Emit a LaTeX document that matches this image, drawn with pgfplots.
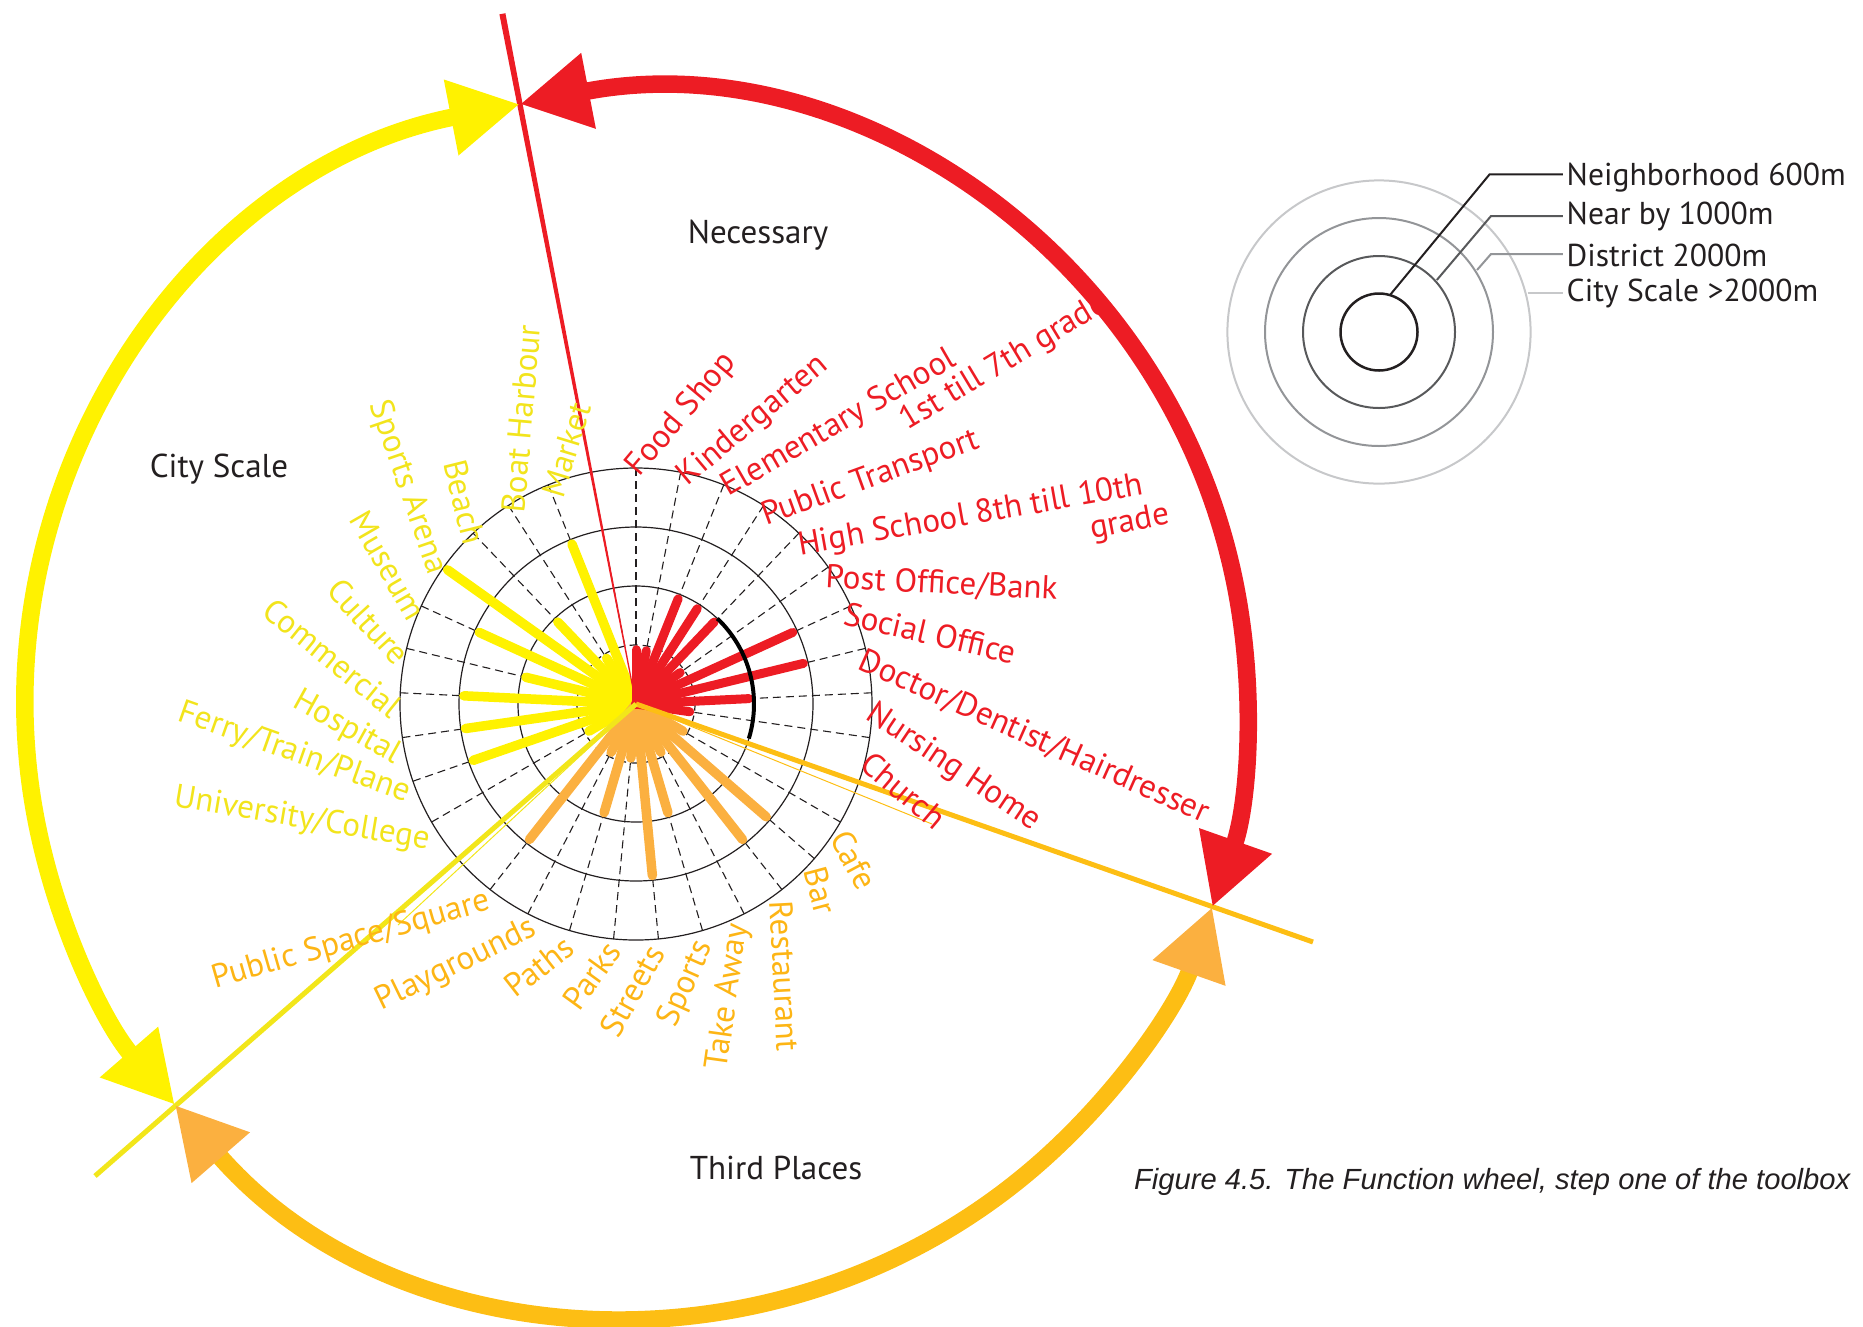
\documentclass[border=0pt]{standalone}
\usepackage{pgfplots}
\pgfplotsset{compat=1.18}
\usepackage{pgfplotstable}
\usepackage{fontspec}
\setmainfont{PT Sans}
\newfontfamily\capfont{Liberation Sans}
\usetikzlibrary{arrows.meta}
\definecolor{cRed}{HTML}{ED1C24}
\definecolor{cYel}{HTML}{FFF200}
\definecolor{cYelT}{HTML}{F2E41C}
\definecolor{cYelL}{HTML}{F2E61A}
\definecolor{cOrBar}{HTML}{FBB040}
\definecolor{cGold}{HTML}{FDBE14}
\definecolor{cOrT}{HTML}{FDB515}
\definecolor{cInk}{HTML}{231F20}
\definecolor{gA}{HTML}{58595B}
\definecolor{gB}{HTML}{939598}
\definecolor{gC}{HTML}{C7C8CA}

% angle (deg) and ring reached (1 = 600m ... 4 = >2000m)
\pgfplotstableread{
a r
90 1
79.09 1
68.18 2
57.27 2
46.36 2
35.45 1
24.55 3
13.64 3
2.73 2
-8.18 1
}\necessary
\pgfplotstableread{
a r
-30 1
-40.91 3
-51.82 3
-62.73 1
-73.64 2
-84.55 3
-95.45 1
-106.36 2
-117.27 1
-128.18 3
}\thirdplaces
\pgfplotstableread{
a r
-150 1
-160.91 3
-171.82 3
-182.73 3
-193.64 2
-204.55 3
-215.45 4
-226.36 2
-237.27 1
-248.18 3
}\cityscale

\tikzset{lbl/.style={inner sep=0pt, font=\fontsize{9.4}{11}\selectfont},
  hd/.style={inner sep=0pt, text=cInk, font=\fontsize{9.4}{11}\selectfont},
  lg/.style={inner sep=0pt, text=cInk, anchor=west, font=\fontsize{9}{11}\selectfont}}

\begin{document}
\begin{tikzpicture}
\begin{axis}[name=ax, x=0.1mm, y=0.1mm, xmin=0, xmax=1863, ymin=0, ymax=1326,
  y dir=reverse, hide axis, clip=false, scale only axis]

% rings and spokes
\draw[cInk, line width=0.12mm, dash pattern=on 0.8mm off 0.5mm] (axis cs:636,704) circle[radius=5.9mm];
\draw[cInk, line width=0.12mm] (axis cs:636,704) circle[radius=11.8mm];
\draw[cInk, line width=0.12mm] (axis cs:636,704) circle[radius=17.7mm];
\draw[cInk, line width=0.12mm] (axis cs:636,704) circle[radius=23.6mm];
\pgfplotsinvokeforeach{0,...,32}{
  \draw[cInk, line width=0.11mm, dash pattern=on 0.8mm off 0.5mm]
    ([shift={(90-10.90909*#1:5.9mm)}]axis cs:636,704) -- ([shift={(90-10.90909*#1:24.0mm)}]axis cs:636,704);
}

% bars
\addplot[cYel, line width=0.95mm, line cap=round,
  quiver={u={59*(\thisrow{r}-0.08)*cos(\thisrow{a})}, v={-59*(\thisrow{r}-0.08)*sin(\thisrow{a})},
    every arrow/.append style={line width=0.95mm, line cap=round, draw=cYel}}]
  table[x expr=636, y expr=704] {\cityscale};
\addplot[cOrBar, line width=0.95mm, line cap=round,
  quiver={u={59*(\thisrow{r}-0.08)*cos(\thisrow{a})}, v={-59*(\thisrow{r}-0.08)*sin(\thisrow{a})},
    every arrow/.append style={line width=0.95mm, line cap=round, draw=cOrBar}}]
  table[x expr=636, y expr=704] {\thirdplaces};
\addplot[cRed, line width=0.9mm, line cap=round,
  quiver={u={59*(\thisrow{r}-0.08)*cos(\thisrow{a})}, v={-59*(\thisrow{r}-0.08)*sin(\thisrow{a})},
    every arrow/.append style={line width=0.9mm, line cap=round, draw=cRed}}]
  table[x expr=636, y expr=704] {\necessary};

% black arc on ring 2
\draw[black, line width=0.4mm] ([shift={(-17:11.8mm)}]axis cs:636,704) arc[start angle=-17, end angle=46.4, radius=11.8mm];

% dividing lines
\fill[cRed] (axis cs:505.4,13.2) -- (axis cs:499.4,14.4) -- (axis cs:635.5,704.1) -- (axis cs:636.5,703.9) -- cycle;
\draw[cGold, line width=0.5mm] (axis cs:636,704) -- (axis cs:1313,942);
\draw[cGold, line width=0.1mm] (axis cs:636,704) -- (axis cs:932,824);
\draw[cYelL, line width=0.5mm] (axis cs:636,704) -- (axis cs:95,1176);
\draw[cYelL, line width=0.1mm] (axis cs:636,704) -- (axis cs:398,925);

% big arcs
\draw[cRed, line width=1.75mm, {Triangle[length=7mm,width=7.2mm]}-{Triangle[length=7mm,width=7.2mm]}]
  ([shift={(100.96:61.1mm)}]axis cs:636,704) arc[start angle=100.96, end angle=-19.4, radius=61.1mm];
\draw[cYel, line width=1.75mm, {Triangle[length=7mm,width=7.2mm]}-{Triangle[length=7mm,width=7.2mm]}]
  ([shift={(100.96:61.1mm)}]axis cs:636,704) arc[start angle=100.96, end angle=221, radius=61.1mm];
\draw[cGold, line width=1.75mm, {Triangle[length=7mm,width=7.2mm,color=cOrBar]}-{Triangle[length=7mm,width=7.2mm,color=cOrBar]}]
  ([shift={(221:61.1mm)}]axis cs:636,704) arc[start angle=221, end angle=340.6, radius=61.1mm];

% necessary labels
\node[lbl, text=cRed, anchor=west, rotate=50] at (axis cs:633,473) {Food Shop};
\node[lbl, text=cRed, anchor=west, rotate=40] at (axis cs:682,481) {Kindergarten};
\node[lbl, text=cRed, anchor=west, rotate=30] at (axis cs:724,490) {Elementary School};
\node[lbl, text=cRed, anchor=west, rotate=31] at (axis cs:903,424) {1st till 7th grade};
\node[lbl, text=cRed, anchor=west, rotate=20] at (axis cs:763,518) {Public Transport};
\node[lbl, text=cRed, anchor=west, rotate=10] at (axis cs:798,547) {High School 8th till 10th};
\node[lbl, text=cRed, anchor=west, rotate=11] at (axis cs:1090,531) {grade};
\node[lbl, text=cRed, anchor=west, rotate=-3] at (axis cs:825,578) {Post Office/Bank};
\node[lbl, text=cRed, anchor=west, rotate=-13] at (axis cs:844,613) {Social Office};
\node[lbl, text=cRed, anchor=west, rotate=-24] at (axis cs:860,660) {Doctor/Dentist/Hairdresser};
\node[lbl, text=cRed, anchor=west, rotate=-34] at (axis cs:869,711) {Nursing Home};
\node[lbl, text=cRed, anchor=west, rotate=-40] at (axis cs:865,758) {Church};

% third places labels
\node[lbl, text=cOrT, anchor=west, rotate=-62] at (axis cs:839,832) {Cafe};
\node[lbl, text=cOrT, anchor=west, rotate=-75] at (axis cs:814,867) {Bar};
\node[lbl, text=cOrT, anchor=west, rotate=-87] at (axis cs:781,900) {Restaurant};
\node[lbl, text=cOrT, anchor=east, rotate=82] at (axis cs:739,923) {Take Away};
\node[lbl, text=cOrT, anchor=east, rotate=66] at (axis cs:705,942) {Sports};
\node[lbl, text=cOrT, anchor=east, rotate=61] at (axis cs:656,947) {Streets};
\node[lbl, text=cOrT, anchor=east, rotate=54] at (axis cs:614,945) {Parks};
\node[lbl, text=cOrT, anchor=east, rotate=38] at (axis cs:570,942) {Paths};
\node[lbl, text=cOrT, anchor=east, rotate=26] at (axis cs:535,927) {Playgrounds};
\node[lbl, text=cOrT, anchor=east, rotate=16] at (axis cs:490,901) {Public Space/Square};

% city scale labels
\node[lbl, text=cYelT, anchor=east, rotate=-9.5] at (axis cs:430,841) {University/College};
\node[lbl, text=cYelT, anchor=east, rotate=-19.5] at (axis cs:410,794) {Ferry/Train/Plane};
\node[lbl, text=cYelT, anchor=east, rotate=-29] at (axis cs:399,757) {Hospital};
\node[lbl, text=cYelT, anchor=east, rotate=-39] at (axis cs:398,711) {Commercial};
\node[lbl, text=cYelT, anchor=east, rotate=-47.5] at (axis cs:404,660) {Culture};
\node[lbl, text=cYelT, anchor=east, rotate=-60] at (axis cs:418,618) {Museum};
\node[lbl, text=cYelT, anchor=east, rotate=-71] at (axis cs:437,574) {Sports Arena};
\node[lbl, text=cYelT, anchor=east, rotate=-76] at (axis cs:475,544) {Beach};
\node[lbl, text=cYelT, anchor=west, rotate=85] at (axis cs:513,513) {Boat Harbour};
\node[lbl, text=cYelT, anchor=west, rotate=73] at (axis cs:552,497) {Market};

% headings
\node[hd] at (axis cs:758,235) {Necessary};
\node[hd] at (axis cs:219,469) {City Scale};
\node[hd] at (axis cs:776,1168) {Third Places};

% key
\draw[gC, line width=0.2mm] (axis cs:1379,332) circle[radius=15.16mm];
\draw[gB, line width=0.2mm] (axis cs:1379,332) circle[radius=11.4mm];
\draw[gA, line width=0.2mm] (axis cs:1379,332) circle[radius=7.6mm];
\draw[cInk, line width=0.25mm] (axis cs:1379,332) circle[radius=3.85mm];
\draw[cInk, line width=0.2mm] (axis cs:1390,295) -- (axis cs:1489.6,174.3) -- (axis cs:1562.8,174.3);
\draw[gA, line width=0.2mm] (axis cs:1436.8,280) -- (axis cs:1491,216) -- (axis cs:1562.8,216);
\draw[gB, line width=0.2mm] (axis cs:1477,270) -- (axis cs:1491,254) -- (axis cs:1562.8,254);
\draw[gC, line width=0.2mm] (axis cs:1527.7,293.3) -- (axis cs:1562.8,293.3);
\node[lg] at (axis cs:1566,178) {Neighborhood 600m};
\node[lg] at (axis cs:1566,216) {Near by 1000m};
\node[lg] at (axis cs:1566,255) {District 2000m};
\node[lg] at (axis cs:1566,293) {City Scale >2000m};

% caption
\node[inner sep=0pt, anchor=east, text=cInk, font=\capfont\itshape\fontsize{8.3}{10}\selectfont] at (axis cs:1851,1182) {Figure 4.5. The Function wheel, step one of the toolbox};
\end{axis}
\pgfresetboundingbox
\useasboundingbox (ax.south west) rectangle (ax.north east);
\end{tikzpicture}
\end{document}
